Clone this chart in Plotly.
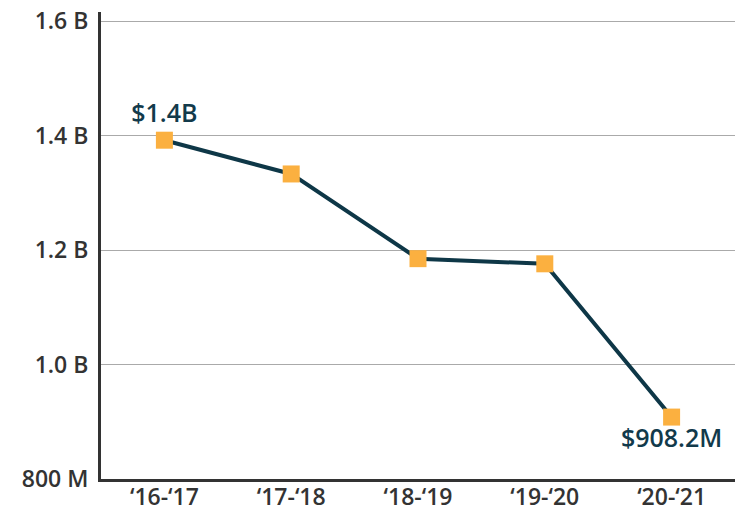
import plotly.graph_objects as go

categories = ["‘16-‘17", "‘17-‘18", "‘18-‘19", "‘19-‘20", "‘20-‘21"]
values = [1.392e9, 1.333e9, 1.185e9, 1.176e9, 0.9082e9]
point_labels = ["$1.4B", "", "", "", "$908.2M"]
label_positions = ["top center", "top center", "top center", "top center", "bottom center"]
y_tick_vals = [0.8e9, 1.0e9, 1.2e9, 1.4e9, 1.6e9]
y_tick_text = ["800 M", "1.0 B", "1.2 B", "1.4 B", "1.6 B"]

FONT = "Open Sans, Noto Sans, DejaVu Sans, sans-serif"

fig = go.Figure()
fig.add_trace(go.Scatter(
    x=categories, y=values,
    mode="lines+markers+text",
    line=dict(color="#0E3747", width=4),
    marker=dict(symbol="square", size=17, color="#FBB040",
                line=dict(color="#FBB040", width=0)),
    text=point_labels,
    textposition=label_positions,
    textfont=dict(family=FONT, size=25, color="#123A4B", weight=600),
    cliponaxis=False,
    showlegend=False,
    hoverinfo="skip",
))

fig.update_layout(
    width=748, height=515,
    margin=dict(l=101, r=13, t=12, b=36, autoexpand=False),
    paper_bgcolor="white", plot_bgcolor="white",
    font=dict(family=FONT, color="#333333"),
    xaxis=dict(
        type="category", range=[-0.5, 4.5], automargin=False,
        showline=True, linecolor="#333333", linewidth=3,
        showgrid=False, ticks="", zeroline=False,
        ticklabelstandoff=-5,
        tickfont=dict(family=FONT, size=23, color="#333333", weight=600),
    ),
    yaxis=dict(
        range=[0.8e9, 1.616e9], automargin=False,
        tickvals=y_tick_vals, ticktext=y_tick_text,
        showline=True, linecolor="#333333", linewidth=3,
        showgrid=True, gridcolor="#AAAAAA", gridwidth=1,
        ticks="", ticklabelstandoff=5, zeroline=False,
        tickfont=dict(family=FONT, size=23, color="#333333", weight=600),
    ),
)

fig.write_html(
    "out.html",
    config={"displayModeBar": False},
    post_script="document.body.style.margin='0';document.body.style.overflow='hidden';",
)
